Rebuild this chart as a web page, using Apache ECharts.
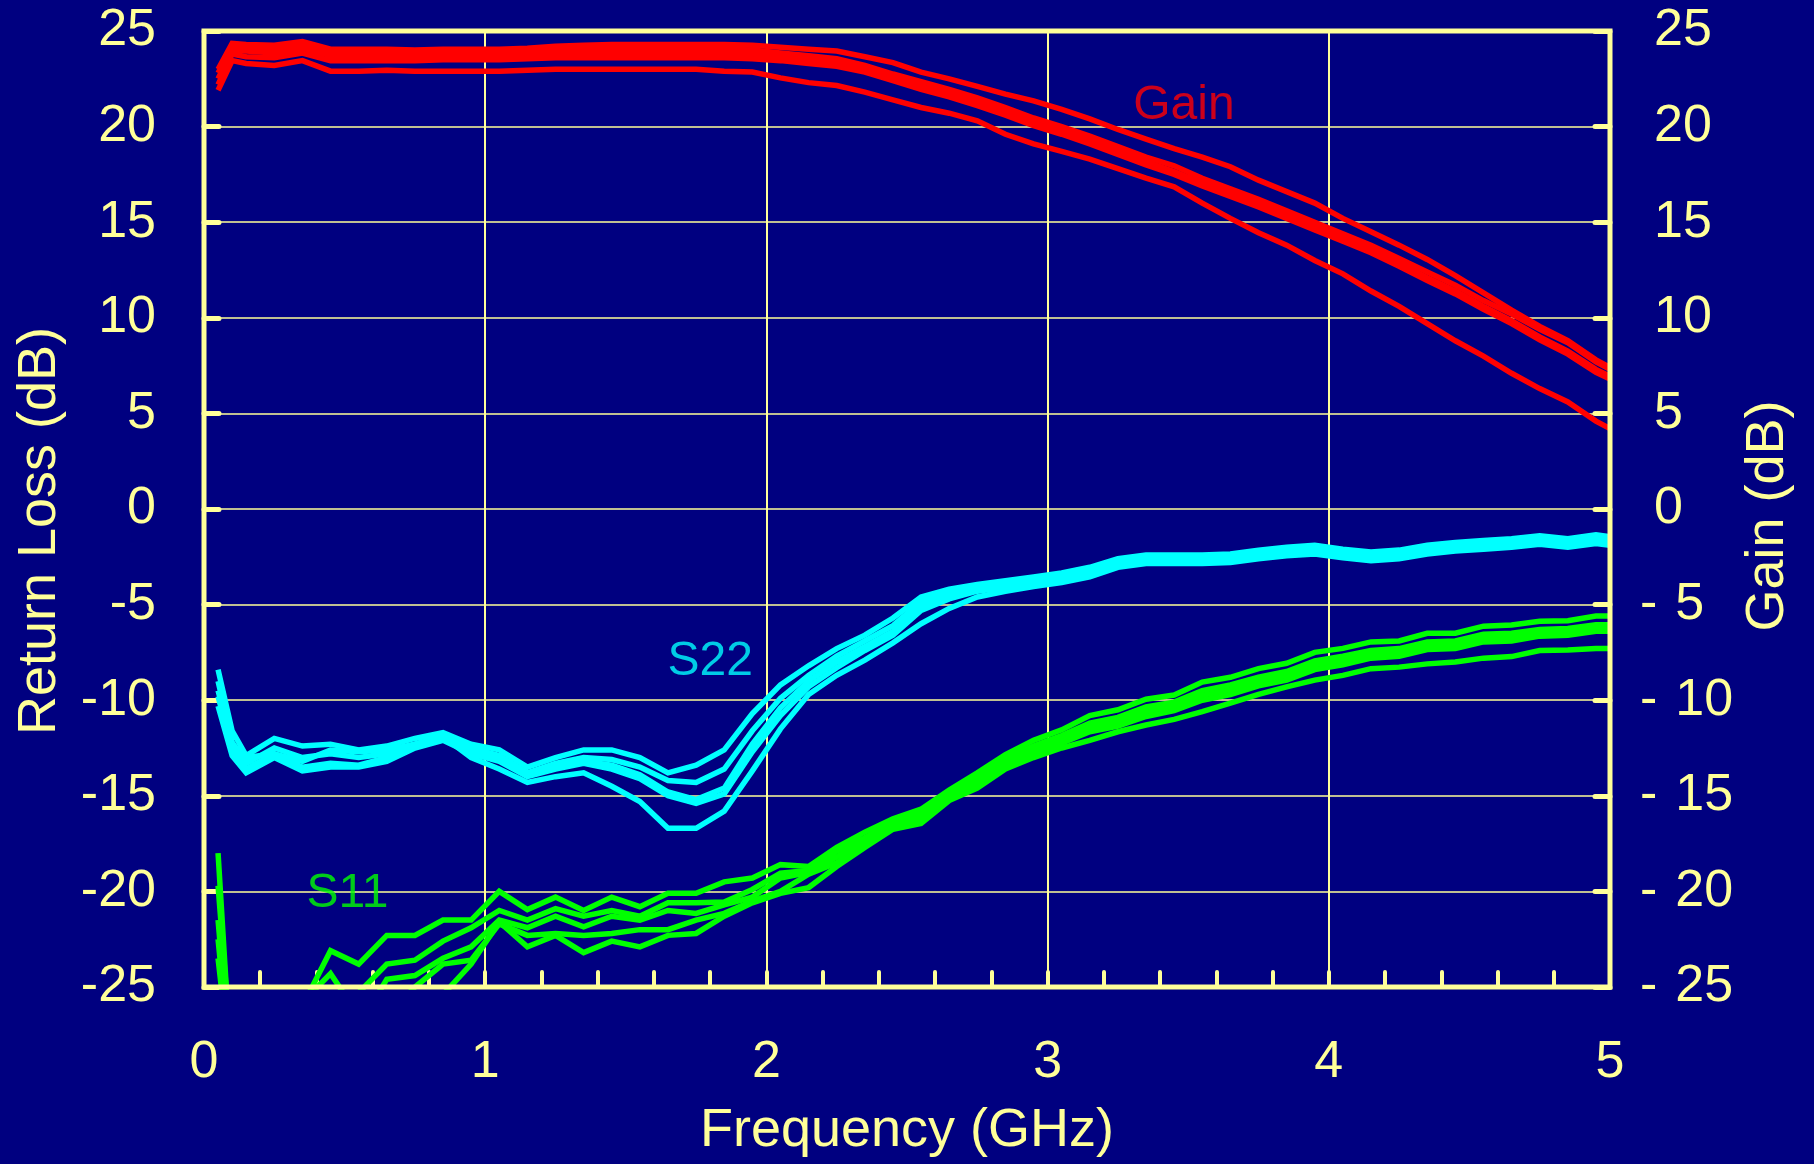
<!DOCTYPE html>
<html>
<head>
<meta charset="utf-8">
<script src="https://cdn.jsdelivr.net/npm/echarts@6/dist/echarts.min.js"></script>
<style>
html,body{margin:0;padding:0;background:#000080;}
#chart{width:1814px;height:1164px;}
</style>
</head>
<body>
<div id="chart"></div>
<script>
const freq = [0.05,0.1,0.15,0.25,0.35,0.45,0.55,0.65,0.75,0.85,
  0.95,1.05,1.15,1.25,1.35,1.45,1.55,1.65,1.75,1.85,
  1.95,2.05,2.15,2.25,2.35,2.45,
  2.55,2.65,2.75,2.85,2.95,3.05,3.15,3.25,3.35,3.45,
  3.55,3.65,3.75,3.85,3.95,4.05,4.15,4.25,4.35,4.45,
  4.55,4.65,4.75,4.85,4.95,5.0];

const xTicks = [0,1,2,3,4,5];
const yTicks = [-25,-20,-15,-10,-5,0,5,10,15,20,25];

const gainA = [23.0,24.35,24.3,24.25,24.45,24.05,24.05,24.05,24.0,24.05,
  24.05,24.05,24.1,24.2,24.25,24.3,24.3,24.3,24.3,24.3,
  24.25,24.15,24.05,23.95,23.65,23.35,
  22.85,22.5,22.1,21.7,21.35,20.9,20.4,19.85,19.35,18.85,
  18.4,17.9,17.2,16.6,16.0,15.2,14.5,13.8,13.05,12.2,
  11.3,10.4,9.55,8.8,7.8,7.4];
const gainB = [22.8,24.2,24.15,24.05,24.3,23.9,23.85,23.85,23.85,23.85,
  23.85,23.85,23.95,24.0,24.05,24.05,24.05,24.05,24.05,24.05,
  24.0,23.85,23.7,23.55,23.2,22.75,
  22.35,21.95,21.5,21.0,20.45,20.0,19.5,18.95,18.4,17.95,
  17.3,16.75,16.2,15.6,15.0,14.4,13.8,13.1,12.4,11.7,
  10.9,10.2,9.4,8.7,7.7,7.3];
const gainC = [22.5,24.0,23.95,23.85,24.1,23.7,23.65,23.65,23.65,23.65,
  23.65,23.65,23.75,23.8,23.8,23.8,23.8,23.8,23.8,23.8,
  23.8,23.65,23.5,23.35,23.0,22.55,
  22.1,21.7,21.25,20.75,20.2,19.75,19.25,18.7,18.15,17.65,
  17.05,16.5,15.95,15.35,14.75,14.15,13.55,12.85,12.1,11.4,
  10.6,9.85,9.0,8.25,7.3,6.95];
const gainD = [22.2,23.8,23.65,23.6,23.85,23.45,23.45,23.45,23.45,23.5,
  23.5,23.5,23.55,23.6,23.6,23.6,23.6,23.6,23.6,23.6,
  23.55,23.45,23.3,23.15,22.85,22.4,
  21.95,21.55,21.1,20.6,20.05,19.6,19.1,18.55,18.0,17.5,
  16.9,16.35,15.8,15.2,14.6,14.0,13.4,12.7,11.95,11.25,
  10.45,9.7,8.85,8.1,7.15,6.8];
const gainE = [21.9,23.45,23.3,23.2,23.45,22.9,22.9,22.95,22.9,22.9,
  22.9,22.9,22.95,23.0,23.0,23.0,23.0,23.0,23.0,22.9,
  22.85,22.55,22.3,22.15,21.8,21.4,
  21.0,20.7,20.3,19.6,19.1,18.7,18.3,17.8,17.3,16.85,
  16.0,15.2,14.45,13.8,13.0,12.3,11.4,10.6,9.7,8.8,
  8.0,7.1,6.3,5.6,4.6,4.2];

const s22A = [-8.4,-11.6,-12.9,-12.0,-12.4,-12.3,-12.6,-12.4,-12.0,-11.7,
  -12.3,-12.6,-13.5,-13.0,-12.6,-12.6,-13.0,-13.8,-13.4,-12.6,
  -10.7,-9.2,-8.2,-7.3,-6.6,-5.7,
  -4.6,-4.2,-3.95,-3.75,-3.55,-3.35,-3.05,-2.6,-2.4,-2.4,
  -2.4,-2.35,-2.15,-2.0,-1.9,-2.1,-2.25,-2.15,-1.9,-1.75,
  -1.65,-1.55,-1.4,-1.55,-1.35,-1.45];
const s22B = [-9.0,-12.2,-13.3,-12.5,-13.0,-12.8,-13.0,-12.8,-12.3,-11.9,
  -12.5,-12.9,-13.8,-13.3,-13.0,-13.1,-13.5,-14.2,-14.3,-13.6,
  -11.6,-9.9,-8.7,-7.7,-6.9,-6.1,
  -4.85,-4.4,-4.1,-3.9,-3.7,-3.5,-3.2,-2.7,-2.5,-2.5,
  -2.5,-2.45,-2.25,-2.1,-2.0,-2.2,-2.35,-2.25,-2.0,-1.85,
  -1.75,-1.65,-1.5,-1.65,-1.45,-1.55];
const s22C = [-9.8,-12.6,-13.6,-12.8,-13.5,-13.3,-13.4,-13.0,-12.4,-12.0,
  -12.6,-13.0,-13.9,-13.5,-13.2,-13.4,-13.9,-14.8,-15.2,-14.6,
  -12.3,-10.4,-9.0,-8.0,-7.2,-6.4,
  -5.1,-4.55,-4.2,-4.0,-3.8,-3.6,-3.3,-2.8,-2.6,-2.6,
  -2.6,-2.55,-2.35,-2.2,-2.1,-2.3,-2.45,-2.35,-2.1,-1.95,
  -1.85,-1.75,-1.6,-1.75,-1.55,-1.65];
const s22D = [-10.3,-12.9,-13.8,-13.0,-13.7,-13.5,-13.5,-13.2,-12.5,-12.1,
  -12.8,-13.2,-14.0,-13.6,-13.3,-13.6,-14.1,-15.0,-15.4,-14.9,
  -12.7,-10.8,-9.3,-8.3,-7.4,-6.6,
  -5.3,-4.7,-4.3,-4.1,-3.9,-3.7,-3.4,-2.9,-2.7,-2.7,
  -2.7,-2.65,-2.45,-2.3,-2.2,-2.4,-2.55,-2.45,-2.2,-2.05,
  -1.95,-1.85,-1.7,-1.85,-1.65,-1.75];
const s22E = [-9.5,-12.3,-13.0,-12.8,-13.2,-12.6,-12.7,-12.6,-12.3,-11.9,
  -13.0,-13.6,-14.3,-14.0,-13.8,-14.5,-15.3,-16.7,-16.7,-15.8,
  -13.7,-11.5,-9.7,-8.7,-7.9,-7.0,
  -6.0,-5.2,-4.6,-4.3,-4.05,-3.85,-3.55,-3.05,-2.85,-2.85,
  -2.85,-2.8,-2.6,-2.45,-2.35,-2.55,-2.7,-2.6,-2.35,-2.2,
  -2.1,-2.0,-1.85,-2.0,-1.8,-1.9];

const s11A = [-18.0,-30,-31,-30,-26,-23.1,-23.8,-22.3,-22.3,-21.5,
  -21.5,-20.0,-20.95,-20.3,-21.0,-20.3,-20.8,-20.1,-20.1,-19.5,
  -19.3,-18.6,-18.7,-17.7,-16.9,-16.2,
  -15.7,-14.7,-13.8,-12.85,-12.1,-11.55,-10.8,-10.5,-9.95,-9.73,
  -9.05,-8.8,-8.35,-8.07,-7.5,-7.29,-6.95,-6.9,-6.5,-6.5,
  -6.13,-6.07,-5.87,-5.84,-5.6,-5.6];
const s11B = [-19.7,-29,-31,-30,-28,-27,-25.3,-23.8,-23.6,-22.6,
  -21.9,-21.0,-21.5,-20.9,-21.3,-21.0,-21.3,-20.6,-20.6,-20.55,
  -19.9,-19.05,-18.9,-17.9,-17.2,-16.35,
  -15.9,-14.9,-14.0,-13.1,-12.4,-11.85,-11.2,-10.9,-10.35,-10.1,
  -9.5,-9.2,-8.8,-8.5,-7.95,-7.7,-7.4,-7.3,-6.95,-6.9,
  -6.55,-6.5,-6.3,-6.25,-6.05,-6.05];
const s11C = [-21.5,-30,-31,-30,-29,-28,-27,-24.6,-24.4,-23.5,
  -22.9,-21.5,-21.9,-21.3,-21.85,-21.3,-21.5,-21.0,-21.15,-20.7,
  -20.3,-19.3,-19.0,-18.2,-17.3,-16.5,
  -16.1,-15.05,-14.2,-13.3,-12.6,-12.05,-11.4,-11.1,-10.6,-10.3,
  -9.75,-9.45,-9.0,-8.7,-8.15,-7.9,-7.6,-7.5,-7.15,-7.1,
  -6.75,-6.7,-6.5,-6.45,-6.25,-6.25];
const s11D = [-22.5,-30,-31,-30,-29,-28,-28,-26.5,-25.0,-23.8,
  -23.6,-21.7,-22.3,-22.2,-22.3,-22.2,-22.0,-22.0,-21.5,-21.15,
  -20.5,-20.0,-19.1,-18.5,-17.5,-16.6,
  -16.25,-15.15,-14.35,-13.45,-12.8,-12.25,-11.65,-11.35,-10.85,-10.55,
  -10.0,-9.7,-9.25,-8.95,-8.4,-8.15,-7.8,-7.7,-7.35,-7.3,
  -6.95,-6.9,-6.65,-6.6,-6.4,-6.4];
const s11E = [-23.5,-30,-31,-29,-25.8,-24.3,-26.5,-27,-26,-25.4,
  -23.8,-21.6,-22.9,-22.3,-23.2,-22.6,-22.9,-22.3,-22.2,-21.3,
  -20.6,-20.1,-19.8,-18.7,-17.7,-16.75,
  -16.45,-15.25,-14.6,-13.6,-13.0,-12.5,-12.1,-11.65,-11.3,-11.0,
  -10.6,-10.15,-9.7,-9.3,-8.95,-8.7,-8.35,-8.27,-8.1,-8.0,
  -7.8,-7.72,-7.4,-7.37,-7.3,-7.3];

const labelNames = ['Gain','S22','S11'];
const labelX = [3.485, 1.80, 0.51];
const labelY = [21.1, -8.0, -20.1];

const FG = '#FFFF99';
const FONT = '"Liberation Sans", Arial, Helvetica, sans-serif';
const RED = '#FF0000', CYAN = '#00FFFF', GREEN = '#00FF00';

function pairs(ys){ return freq.map((f,i)=>[f, ys[i]]); }
function lineSeries(ys, color, axis){
  return {type:'line', data:pairs(ys), yAxisIndex:axis, symbol:'none', clip:true,
    lineStyle:{color:color, width:5.5, join:'miter'}, itemStyle:{color:color}, z:3, silent:true};
}

const series = [];
[gainA,gainB,gainC,gainD,gainE].forEach(s=>series.push(lineSeries(s, RED, 1)));
[s22A,s22B,s22C,s22D,s22E].forEach(s=>series.push(lineSeries(s, CYAN, 0)));
[s11A,s11B,s11C,s11D,s11E].forEach(s=>series.push(lineSeries(s, GREEN, 0)));
const labelColors = [RED, CYAN, GREEN];
labelNames.forEach((n,i)=>{
  series.push({type:'scatter', yAxisIndex:0, symbolSize:0, data:[[labelX[i], labelY[i]]], silent:true, z:5,
    label:{show:true, position:'inside', formatter:n, color:labelColors[i], fontSize:48, fontFamily:FONT}});
});

const tickStyle = {color:FG, width:5, cap:'round'};
function yAxis(pos, grid){
  const ax = {type:'value', position:pos, min:yTicks[0], max:yTicks[yTicks.length-1], interval:5,
    axisLine:{show:false, onZero:false},
    axisTick:{show:true, inside:true, length:15, lineStyle:tickStyle},
    splitLine:{show:grid, lineStyle:{color:FG, width:1.5}},
    axisLabel:{color:FG, fontSize:52, fontFamily:FONT, margin:48}};
  if (pos === 'right') {
    ax.axisLabel = {margin:30,
      formatter: v => v < 0 ? '{t|-}{g| }{t|' + (-v) + '}' : '{p| }{t|' + v + '}',
      rich:{t:{color:FG, fontSize:52, fontFamily:FONT},
            g:{width:18, fontSize:52, fontFamily:FONT},
            p:{width:14, fontSize:52, fontFamily:FONT}}};
  }
  return ax;
}

const chart = echarts.init(document.getElementById('chart'), null, {renderer:'canvas'});
chart.setOption({
  backgroundColor:'#000080',
  animation:false,
  grid:{left:204, right:204, top:31, bottom:177, show:true, borderColor:FG, borderWidth:5, backgroundColor:'transparent', z:4},
  xAxis:{type:'value', min:xTicks[0], max:xTicks[xTicks.length-1], interval:1,
    axisLine:{show:false, onZero:false},
    axisTick:{show:true, inside:true, length:15, lineStyle:{color:FG, width:4, cap:'round'}},
    minorTick:{show:true, splitNumber:5, length:15, lineStyle:{color:FG, width:4, cap:'round'}},
    splitLine:{show:true, lineStyle:{color:FG, width:2}},
    axisLabel:{color:FG, fontSize:52, fontFamily:FONT, margin:50}},
  yAxis:[yAxis('left', true), yAxis('right', false)],
  graphic:[
    {type:'text', x:907, y:1131, z:10, style:{text:'Frequency (GHz)', fill:FG, font:'54px '+FONT, align:'center', verticalAlign:'middle'}},
    {type:'text', x:40, y:531, rotation:Math.PI/2, z:10, style:{text:'Return Loss (dB)', fill:FG, font:'54px '+FONT, align:'center', verticalAlign:'middle'}},
    {type:'text', x:1768, y:516, rotation:Math.PI/2, z:10, style:{text:'Gain (dB)', fill:FG, font:'54px '+FONT, align:'center', verticalAlign:'middle'}}
  ],
  series:series
});
</script>
</body>
</html>
